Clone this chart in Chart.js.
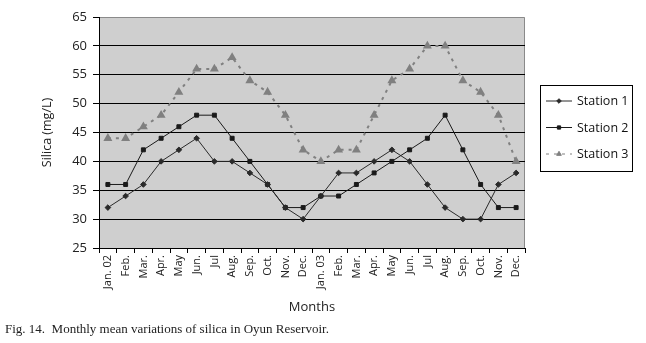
<!DOCTYPE html>
<html><head><meta charset="utf-8">
<script src="https://cdn.jsdelivr.net/npm/chart.js@4"></script>
<style>
html,body{margin:0;padding:0;background:#fff;}
#wrap{position:relative;width:646px;height:343px;}
#caption{position:absolute;left:5px;top:321px;font-family:"Liberation Serif","Times New Roman",serif;font-size:13px;color:#222;white-space:pre;}
</style></head>
<body><div id="wrap"><canvas id="c" width="646" height="343"></canvas><div id="caption">Fig. 14.  Monthly mean variations of silica in Oyun Reservoir.</div></div>
<script>
const months = ["Jan. 02","Feb.","Mar.","Apr.","May","Jun.","Jul","Aug.","Sep.","Oct.","Nov.","Dec.","Jan. 03","Feb.","Mar.","Apr.","May","Jun.","Jul","Aug.","Sep.","Oct.","Nov.","Dec."];
const station1 = [32,34,36,40,42,44,40,40,38,36,32,30,34,38,38,40,42,40,36,32,30,30,36,38];
const station2 = [36,36,42,44,46,48,48,44,40,36,32,32,34,34,36,38,40,42,44,48,42,36,32,32];
const station3 = [44,44,46,48,52,56,56,58,54,52,48,42,40,42,42,48,54,56,60,60,54,52,48,40];
const seriesNames = ["Station 1","Station 2","Station 3"];
const yTicks = [25,30,35,40,45,50,55,60,65];

const FONT = '"Open Sans", "DejaVu Sans", sans-serif';

const bgPlugin = {
  id:'bg',
  beforeDraw(chart){
    const a = chart.chartArea, ctx = chart.ctx;
    ctx.save(); ctx.fillStyle = '#cfcfcf';
    ctx.fillRect(a.left, a.top, a.right-a.left, a.bottom-a.top);
    ctx.strokeStyle = '#8a8a8a'; ctx.lineWidth = 1;
    ctx.beginPath(); ctx.moveTo(a.left, a.top+0.5); ctx.lineTo(a.right-0.5, a.top+0.5); ctx.lineTo(a.right-0.5, a.bottom); ctx.stroke();
    ctx.restore();
  }
};

const legendPlugin = {
  id:'boxLegend',
  afterDraw(chart){
    const ctx = chart.ctx;
    const x0 = 540, y0 = 85, w = 92, h = 86;
    ctx.save();
    ctx.strokeStyle = '#000'; ctx.lineWidth = 1;
    ctx.strokeRect(x0+0.5, y0+0.5, w, h);
    ctx.font = '12.5px ' + FONT; ctx.textBaseline = 'middle';
    chart.data.datasets.forEach((ds, i) => {
      const y = y0 + 16 + i*26.5;
      ctx.strokeStyle = ds.borderColor; ctx.lineWidth = 1;
      ctx.setLineDash(ds.borderDash || []);
      ctx.beginPath(); ctx.moveTo(x0+6, y); ctx.lineTo(x0+32, y); ctx.stroke();
      ctx.setLineDash([]);
      ctx.fillStyle = ds.pointBackgroundColor; ctx.strokeStyle = ds.pointBorderColor;
      Chart.helpers.drawPoint(ctx, {pointStyle: ds.pointStyle, radius: ds.pointRadius-0.5, borderWidth:1, rotation:0}, x0+19, y);
      ctx.fillStyle = '#111';
      ctx.fillText(ds.label, x0+37, y+0.5);
    });
    ctx.restore();
  }
};

new Chart(document.getElementById('c'), {
  type:'line',
  data:{
    labels: months,
    datasets:[
      {label:seriesNames[0], data:station1, borderColor:'#2a2a2a', borderWidth:1, pointStyle:'rectRot', pointRadius:2.8, pointBackgroundColor:'#2a2a2a', pointBorderColor:'#2a2a2a', tension:0},
      {label:seriesNames[1], data:station2, borderColor:'#1a1a1a', borderWidth:1, pointStyle:'rect', pointRadius:2.8, pointBackgroundColor:'#1a1a1a', pointBorderColor:'#1a1a1a', tension:0},
      {label:seriesNames[2], data:station3, borderColor:'#808080', borderWidth:2, borderDash:[3,5], pointStyle:'triangle', pointRadius:3.2, pointBackgroundColor:'#808080', pointBorderColor:'#808080', tension:0}
    ]
  },
  options:{
    responsive:false, animation:false, devicePixelRatio:1,
    layout:{padding:{top:17,right:121,left:40,bottom:28}},
    plugins:{legend:{display:false}, tooltip:{enabled:false}},
    scales:{
      x:{
        offset:true,
        grid:{offset:true, drawOnChartArea:false, color:'#000', tickLength:5, tickWidth:1},
        border:{color:'#000', width:1},
        ticks:{maxRotation:90, minRotation:90, autoSkip:false, color:'#222', font:{family:FONT, size:11}, padding:2},
        title:{display:true, text:'Months', color:'#222', font:{family:FONT, size:13}, padding:{top:0, bottom:0}},
        afterFit(s){ s.height = 343-28-248; }
      },
      y:{
        min:25, max:65,
        afterBuildTicks(s){ s.ticks = yTicks.map(v=>({value:v})); },
        grid:{color:(c)=> c.tick && c.tick.value===65 ? 'rgba(0,0,0,0)' : '#000', lineWidth:1, tickLength:6, tickColor:'#000'},
        border:{color:'#000', width:1},
        ticks:{color:'#222', font:{family:FONT, size:13}, padding:6},
        title:{display:true, text:'Silica (mg/L)', color:'#222', font:{family:FONT, size:12.5}, padding:{top:0,bottom:0}},
        afterFit(s){ s.width = 59; }
      }
    }
  },
  plugins:[bgPlugin, legendPlugin]
});
</script>
</body></html>
